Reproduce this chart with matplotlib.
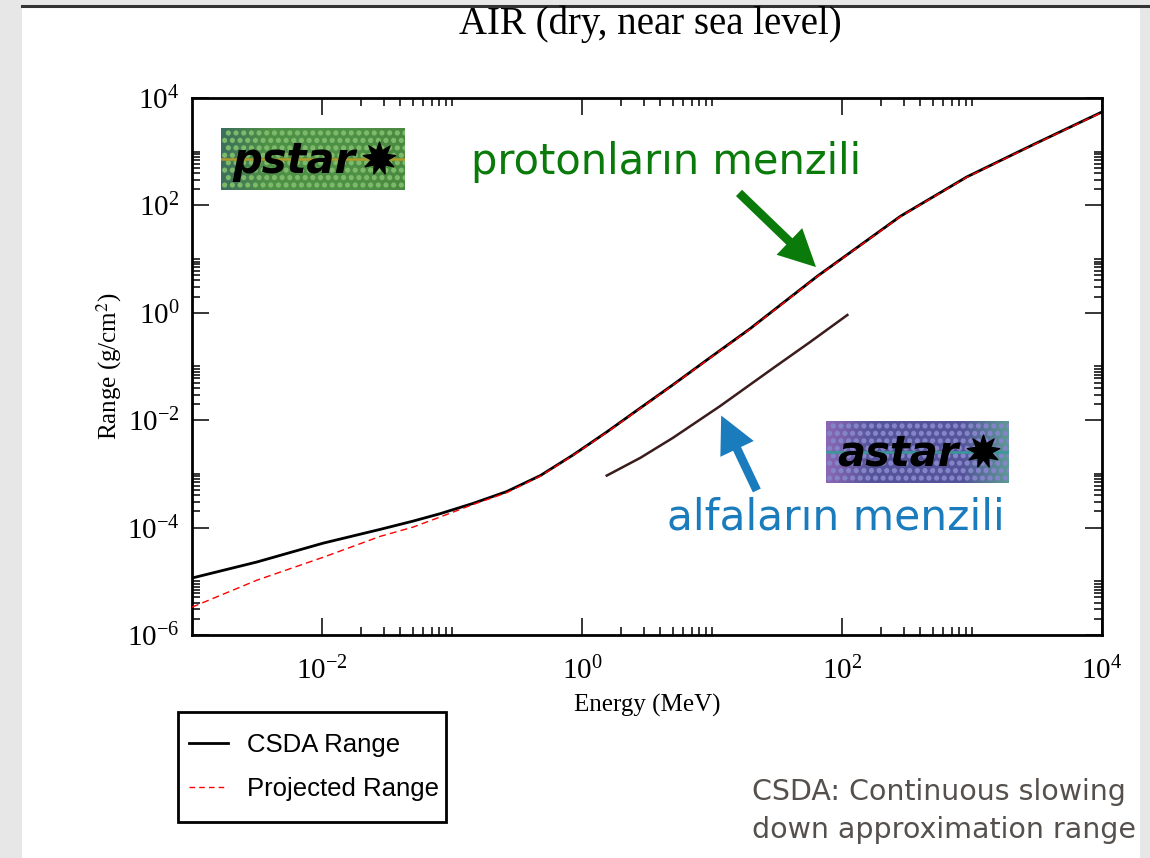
import numpy as np
import matplotlib
matplotlib.use('Agg')
import matplotlib.pyplot as plt
import matplotlib.ticker as ticker
from matplotlib.patches import Rectangle, FancyArrowPatch
from matplotlib.lines import Line2D
from matplotlib.colors import LinearSegmentedColormap
from matplotlib.font_manager import FontProperties

plt.rcParams['font.family'] = ['Liberation Serif', 'DejaVu Serif']
plt.rcParams['mathtext.fontset'] = 'stix'

W, H = 1150, 858

# proton (PSTAR) range in air
proton_energy = [0.001, 0.00316, 0.0102, 0.0282, 0.0501, 0.0813, 0.145, 0.263, 0.479,
                 0.851, 1.55, 2.82, 5.01, 9.12, 19.5, 64.6, 282, 912, 2950, 10000]
csda_range = [1.15e-5, 2.29e-5, 5.13e-5, 9.3e-5, 1.32e-4, 1.82e-4, 2.82e-4, 4.68e-4, 9.33e-4,
              2.24e-3, 6.03e-3, 1.70e-2, 4.57e-2, 0.132, 0.50, 4.8, 63, 339, 1350, 5500]
projected_range = [3.3e-6, 1.05e-5, 2.8e-5, 6.9e-5, 1.02e-4, 1.58e-4, 2.69e-4, 4.47e-4, 9.1e-4,
                   2.2e-3, 5.9e-3, 1.67e-2, 4.5e-2, 0.130, 0.49, 4.72, 62, 334, 1330, 5420]

# alpha (ASTAR) range in air
alpha_energy = [1.55, 2.82, 5.01, 11.5, 29.5, 56.2, 110]
alpha_range = [9.3e-4, 2.0e-3, 4.7e-3, 1.82e-2, 9.3e-2, 0.28, 0.91]

x_major = [1e-2, 1, 1e2, 1e4]
y_major = [1e-6, 1e-4, 1e-2, 1, 1e2, 1e4]
legend_labels = ['CSDA Range', 'Projected Range']


def fx(x):
    return x / W


def fy(y):
    return 1 - y / H


fig = plt.figure(figsize=(W / 100, H / 100), dpi=100, facecolor='#e7e7e7')
# slide background
fig.patches.append(Rectangle((fx(22), 0), fx(1140) - fx(22), fy(7), transform=fig.transFigure,
                             facecolor='white', edgecolor='none', zorder=-10))
fig.add_artist(Line2D([fx(22), 1], [fy(6), fy(6)], color='#333333', lw=2.2))

ax = fig.add_axes([fx(192), fy(635), fx(1102) - fx(192), fy(98) - fy(635)])
ax.set_xscale('log')
ax.set_yscale('log')
ax.set_xlim(1e-3, 1e4)
ax.set_ylim(1e-6, 1e4)

ax.plot(proton_energy, csda_range, color='black', lw=2.0, zorder=2)
ax.plot(proton_energy, projected_range, color='red', lw=1.0, ls=(0, (5, 3)), zorder=3)
ax.plot(alpha_energy, alpha_range, color='#3a1c1c', lw=1.8, zorder=3)

# ticks like Grace: majors every two decades, minors 2..10 after each major
x_minor = [k * m for m in x_major[:-1] for k in range(2, 11)]
y_minor = [k * m for m in y_major[:-1] for k in range(2, 11)]
ax.xaxis.set_major_locator(ticker.FixedLocator(x_major))
ax.yaxis.set_major_locator(ticker.FixedLocator(y_major))
ax.xaxis.set_minor_locator(ticker.FixedLocator(x_minor))
ax.yaxis.set_minor_locator(ticker.FixedLocator(y_minor))
ax.xaxis.set_major_formatter(ticker.LogFormatterMathtext())
ax.yaxis.set_major_formatter(ticker.LogFormatterMathtext())
ax.xaxis.set_minor_formatter(ticker.NullFormatter())
ax.yaxis.set_minor_formatter(ticker.NullFormatter())
ax.tick_params(which='both', direction='in', top=True, right=True, width=1.1, colors='black')
ax.tick_params(which='major', length=12.5, labelsize=21)
ax.tick_params(which='minor', length=6)
ax.tick_params(axis='x', which='major', pad=16)
ax.tick_params(axis='y', which='major', pad=9)
for s in ax.spines.values():
    s.set_linewidth(2.0)

ax.set_xlabel('Energy (MeV)', fontsize=18, labelpad=6)
ax.set_ylabel('Range (g/cm$^2$)', fontsize=18, labelpad=2)
fig.text(fx(650), fy(24), 'AIR (dry, near sea level)', ha='center', va='center', fontsize=28)

# legend below the plot, frame drawn by hand to get the Grace box
handles = [Line2D([], [], color='black', lw=2.0),
           Line2D([], [], color='red', lw=1.0, ls=(0, (4, 3)))]
leg = ax.legend(handles, legend_labels, loc='center left',
                bbox_to_anchor=(fx(189), fy(767)), bbox_transform=fig.transFigure,
                frameon=False, prop=FontProperties(family='Liberation Sans', size=18.5),
                handlelength=1.5, handletextpad=0.75, borderpad=0, labelspacing=0.75,
                borderaxespad=0)
fig.patches.append(Rectangle((fx(178), fy(822)), fx(446) - fx(178), fy(712) - fy(822),
                             transform=fig.transFigure, facecolor='none',
                             edgecolor='black', lw=2.0, zorder=5))


def logo(x0, y0, x1, y1, word, base, dot, line_col, edge_l, edge_r):
    lax = fig.add_axes([fx(x0), fy(y1), fx(x1) - fx(x0), fy(y0) - fy(y1)])
    lax.set_xlim(0, 1)
    lax.set_ylim(0, 1)
    lax.axis('off')
    grad = np.linspace(0, 1, 200)
    cmap = LinearSegmentedColormap.from_list('g', [edge_l, base, base, base, edge_r])
    lax.imshow(grad[None, :], cmap=cmap, extent=(0, 1, 0, 1), aspect='auto', zorder=0)
    gx, gy = np.meshgrid(np.linspace(0.02, 0.98, 24), np.linspace(0.08, 0.92, 8))
    gx[1::2] += 0.02
    lax.scatter(gx.ravel(), gy.ravel(), s=14, color=dot, edgecolors='none', zorder=1)
    lax.plot([0, 1], [0.5, 0.5], color=line_col, lw=1.8, zorder=2)
    lax.text(0.06, 0.47, word, fontsize=30, fontweight='bold', fontstyle='italic',
             family='DejaVu Sans', ha='left', va='center', color='black', zorder=3)
    lax.scatter([0.86], [0.52], marker=(9, 1, 0), s=560, color='black', zorder=3)


logo(221, 128, 405, 190, 'pstar', '#4e9046', '#7cba6a', '#b09a2c', '#3d6e5e', '#4a8a40')
logo(826, 421, 1009, 483, 'astar', '#55549a', '#8484c8', '#3a9a9a', '#8a68b4', '#5c9a92')

comic = ['DejaVu Sans']
green = '#0a7a0a'
blue = '#1a7bbd'
fig.text(fx(471), fy(162), 'protonların menzili', color=green, fontsize=30,
         family=comic, ha='left', va='center')
fig.text(fx(667), fy(518), 'alfaların menzili', color=blue, fontsize=30.5,
         family=comic, ha='left', va='center')
fig.add_artist(FancyArrowPatch((fx(737), fy(191)), (fx(818), fy(269)),
                               transform=fig.transFigure, color=green,
                               arrowstyle='simple,head_width=1.9,head_length=1.9,tail_width=0.45',
                               mutation_scale=14, lw=0))
fig.add_artist(FancyArrowPatch((fx(758), fy(493)), (fx(720), fy(413)),
                               transform=fig.transFigure, color=blue,
                               arrowstyle='simple,head_width=1.9,head_length=1.9,tail_width=0.45',
                               mutation_scale=14, lw=0))

fig.text(fx(752), fy(792), 'CSDA: Continuous slowing', color='#55504c', fontsize=20.5,
         family=comic, ha='left', va='center')
fig.text(fx(752), fy(830), 'down approximation range', color='#55504c', fontsize=20.5,
         family=comic, ha='left', va='center')

fig.savefig('out.png', dpi=100, facecolor=fig.get_facecolor())
